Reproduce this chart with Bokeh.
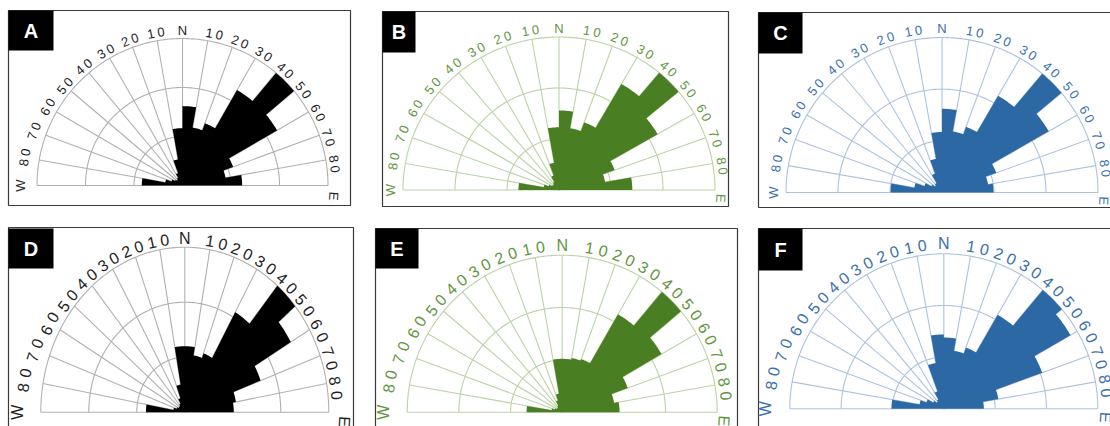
import numpy as np
from bokeh.plotting import figure
from bokeh.models import Range1d
from bokeh.core.properties import value
from bokeh.embed import file_html
from bokeh.resources import INLINE

# ---------------- data ----------------
bin_starts = [-90, -80, -70, -60, -50, -40, -30, -20, -10, 0, 10, 20, 30, 40, 50, 60, 70, 80]
tick_angles = [-90, -80, -70, -60, -50, -40, -30, -20, -10, 0, 10, 20, 30, 40, 50, 60, 70, 80, 90]
tick_labels = ["W", "80", "70", "60", "50", "40", "30", "20", "10", "N",
               "10", "20", "30", "40", "50", "60", "70", "80", "E"]
panel_letters = ["A", "B", "C", "D", "E", "F"]

values_A = [0.28, 0.12, 0.08, 0.06, 0.05, 0.06, 0.09, 0.18, 0.39, 0.54, 0.40, 0.45, 0.75, 1.00, 0.75, 0.37, 0.30, 0.41]
values_B = [0.26, 0.10, 0.07, 0.05, 0.05, 0.06, 0.10, 0.18, 0.41, 0.52, 0.41, 0.47, 0.80, 1.00, 0.73, 0.38, 0.30, 0.47]
values_C = [0.33, 0.18, 0.12, 0.08, 0.06, 0.07, 0.13, 0.22, 0.39, 0.54, 0.40, 0.45, 0.72, 1.00, 0.79, 0.37, 0.30, 0.33]
values_D = [0.27, 0.08, 0.06, 0.05, 0.05, 0.06, 0.09, 0.17, 0.40, 0.40, 0.35, 0.38, 0.70, 1.00, 0.85, 0.56, 0.36, 0.34]
values_E = [0.23, 0.07, 0.05, 0.04, 0.04, 0.05, 0.08, 0.12, 0.34, 0.34, 0.35, 0.36, 0.72, 1.00, 0.74, 0.45, 0.34, 0.37]
values_F = [0.34, 0.16, 0.12, 0.08, 0.06, 0.07, 0.12, 0.30, 0.48, 0.46, 0.38, 0.42, 0.70, 1.00, 0.95, 0.68, 0.36, 0.26]
all_values = [values_A, values_B, values_C, values_D, values_E, values_F]

# ---------------- styles / layout ----------------
fill_colors = ["#000000", "#4a7e22", "#2c68a4"]
grid_colors = ["#b0b0b0", "#bcd2a8", "#adc2de"]
label_colors = ["#1e1e1e", "#5f9640", "#3a70ad"]

geoms = [
    dict(cx=182.0, cy=185.0, rx=145.5, ry=147.0, frame=(8, 10, 350, 205), box=(8, 10, 53, 50),
         fs=13, sp=3.0, off=8, woff=17, eoff=6, eang=94.0, rshift=2.0),
    dict(cx=558.5, cy=189.5, rx=156.0, ry=153.0, frame=(382, 11, 728, 206), box=(382, 11, 415, 52),
         fs=13, sp=3.0, off=9, woff=13, eoff=6, eang=93.0, rshift=1.5),
    dict(cx=941.5, cy=192.0, rx=156.0, ry=155.0, frame=(758, 12, 1130, 207), box=(758, 12, 802, 53),
         fs=13, sp=3.0, off=9, woff=13, eoff=6, eang=93.0, rshift=1.5),
    dict(cx=184.3, cy=411.7, rx=144.0, ry=165.0, frame=(8, 227, 353, 460), box=(8, 228, 53, 268),
         fs=16, sp=5.0, off=9, woff=23, eoff=16, eang=93.0, rshift=2.0),
    dict(cx=561.7, cy=411.7, rx=155.0, ry=157.0, frame=(375, 228, 737, 460), box=(375, 228, 418, 268),
         fs=16, sp=5.0, off=10, woff=24, eoff=7, eang=93.0, rshift=2.0),
    dict(cx=943.3, cy=408.3, rx=154.0, ry=155.0, frame=(758, 228, 1130, 460), box=(758, 228, 802, 270),
         fs=16, sp=5.0, off=10, woff=24, eoff=8, eang=93.0, rshift=2.0),
]

char_w = {"0": 0.556, "1": 0.556, "2": 0.556, "3": 0.556, "4": 0.556, "5": 0.556,
          "6": 0.556, "7": 0.556, "8": 0.556, "9": 0.556, "N": 0.722, "W": 0.944, "E": 0.667}

FW, FH = 1110, 426
p = figure(width=FW, height=FH, x_range=Range1d(0, FW), y_range=Range1d(0, FH),
           output_backend="svg", toolbar_location=None, min_border=0,
           x_axis_location=None, y_axis_location=None)
p.grid.visible = False
p.outline_line_color = None
p.background_fill_color = "white"
p.border_fill_color = "white"


def Y(py):
    return FH - np.asarray(py, dtype=float)


for k, (letter, vals, g) in enumerate(zip(panel_letters, all_values, geoms)):
    col = k % 3
    cx, cy, rx, ry = g["cx"], g["cy"], g["rx"], g["ry"]
    gc = grid_colors[col]

    # frame
    l, t, r, b = g["frame"]
    p.quad(left=[l], right=[r], top=[Y(t)], bottom=[Y(b)], fill_color=None,
           line_color="#3a3a3a", line_width=1.2)

    # rings
    tt = np.radians(np.linspace(-90, 90, 181))
    rxs, rys = [], []
    for fr in [1 / 3, 2 / 3, 1.0]:
        rxs.append(list(cx + fr * rx * np.sin(tt)))
        rys.append(list(Y(cy - fr * ry * np.cos(tt))))
    p.multi_line(xs=rxs, ys=rys, line_color=gc, line_width=1.1)

    # rays
    ta = np.radians(np.array(tick_angles, dtype=float))
    p.multi_line(xs=[[cx, cx + rx * np.sin(a)] for a in ta],
                 ys=[[float(Y(cy)), float(Y(cy - ry * np.cos(a)))] for a in ta],
                 line_color=gc, line_width=1.1)

    # bars: single outline polygon built from the bin values
    px, py = [cx], [cy]
    for s, v in zip(bin_starts, vals):
        ts = np.radians(np.linspace(s, s + 10, 12))
        px += list(cx + v * rx * np.sin(ts))
        py += list(cy - v * ry * np.cos(ts))
    p.patch(x=px, y=list(Y(py)), fill_color=fill_colors[col], line_color=None)

    # tick labels, character by character along the arc
    fs, sp = g["fs"], g["sp"]
    cxs, cys, ctx, cang = [], [], [], []
    for ang, lab in zip(tick_angles, tick_labels):
        off = g["off"]
        phi = float(ang)
        if lab == "E":
            off = g["eoff"]
            phi = g["eang"]
        elif ang > 0:
            phi = ang + g["rshift"]
        elif ang < -50:
            off = g["off"] + (g["woff"] - g["off"]) * (-ang - 50) / 40.0
        reff = (rx + ry) / 2 + off
        widths = [char_w[c] * fs for c in lab]
        total = sum(widths) + sp * (len(lab) - 1)
        pos = -total / 2
        for c, w in zip(lab, widths):
            a = phi + np.degrees((pos + w / 2) / reff)
            ar = np.radians(a)
            cxs.append(cx + (rx + off) * np.sin(ar))
            cys.append(float(Y(cy - (ry + off) * np.cos(ar))))
            ctx.append(c)
            cang.append(-ar)
            pos += w + sp
    p.text(x=cxs, y=cys, text=ctx, angle=cang, text_font=value("Liberation Sans"),
           text_font_size=value(f"{fs}px"), text_color=label_colors[col],
           text_align="center", text_baseline="middle")

    # panel letter box
    bl, bt, br, bb = g["box"]
    p.quad(left=[bl], right=[br], top=[Y(bt)], bottom=[Y(bb)], fill_color="#000000", line_color=None)
    p.text(x=[(bl + br) / 2], y=[float(Y((bt + bb) / 2))], text=[letter],
           text_font=value("Liberation Sans"), text_font_style="bold",
           text_font_size=value("20px"), text_color="white",
           text_align="center", text_baseline="middle")

open("out.html", "w").write(file_html(p, INLINE))
